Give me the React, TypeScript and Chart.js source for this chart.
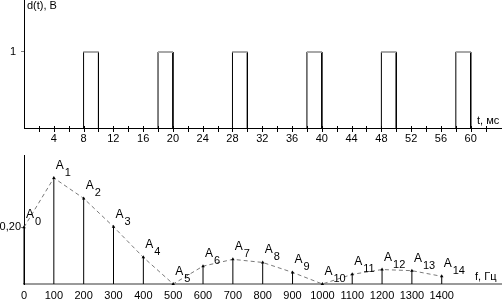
import React, { useEffect, useRef } from 'react';
import { Chart, registerables } from 'chart.js';

Chart.register(...registerables);

// ---- data ----
const pulseStarts = [8, 18, 28, 38, 48, 58];
const pulseEnds = [10, 20, 30, 40, 50, 60];
const pulseLevel = 1;
const timeMax = 64.2;
const timeTicks = [2, 4, 6, 8, 10, 12, 14, 16, 18, 20, 22, 24, 26, 28, 30, 32, 34, 36, 38, 40, 42, 44, 46, 48, 50, 52, 54, 56, 58, 60, 62];
const timeTickLabels = ['', '4', '', '8', '', '12', '', '16', '', '20', '', '24', '', '28', '', '32', '', '36', '', '40', '', '44', '', '48', '', '52', '', '56', '', '60', ''];
const timeLevelTicks = [1];

const harmonicFreqs = [0, 100, 200, 300, 400, 500, 600, 700, 800, 900, 1000, 1100, 1200, 1300, 1400];
const harmonicAmps = [0.2, 0.374, 0.302, 0.202, 0.094, 0, 0.063, 0.087, 0.076, 0.041, 0, 0.034, 0.051, 0.047, 0.027];
const freqMax = 1602;
const freqTickLabels = ['0', '100', '200', '300', '400', '500', '600', '700', '800', '900', '1000', '1100', '1200', '1300', '1400'];
const ampTicks = [0.2];
const ampTickLabels = ['0,20'];

const FAMILY = '"Liberation Sans", Arial, sans-serif';

const topDecor = {
  id: 'topDecor',
  afterDraw(chart: any) {
    const { ctx, chartArea, scales } = chart;
    const x = scales.x;
    ctx.save();
    ctx.strokeStyle = '#000';
    ctx.lineWidth = 1;
    x.ticks.forEach((t: any) => {
      const px = Math.round(x.getPixelForValue(t.value)) + 0.5;
      ctx.beginPath();
      ctx.moveTo(px, chartArea.bottom - 2);
      ctx.lineTo(px, chartArea.bottom + 4);
      ctx.stroke();
    });
    ctx.fillStyle = '#000';
    ctx.font = '11px ' + FAMILY;
    ctx.textAlign = 'left';
    ctx.textBaseline = 'alphabetic';
    ctx.fillText('d(t), В', chartArea.left + 3, 9);
    ctx.fillText('t, мс', chartArea.right - 25, chartArea.bottom - 4);
    ctx.restore();
  },
};

const bottomDecor = {
  id: 'bottomDecor',
  afterDatasetsDraw(chart: any) {
    const { ctx, chartArea, scales } = chart;
    const x = scales.x;
    const y = scales.y;
    ctx.save();
    ctx.fillStyle = '#000';
    ctx.textAlign = 'left';
    ctx.textBaseline = 'alphabetic';
    harmonicFreqs.forEach((f, i) => {
      const px = x.getPixelForValue(f);
      const py = y.getPixelForValue(harmonicAmps[i]);
      ctx.font = '12px ' + FAMILY;
      ctx.fillText('A', px + 2, py - 9);
      ctx.font = '11px ' + FAMILY;
      ctx.fillText(String(i), px + 11, py - 2);
    });
    ctx.font = '11px ' + FAMILY;
    ctx.fillText('f, Гц', chartArea.right - 27, chartArea.bottom - 4);
    ctx.restore();
  },
};

export default function App() {
  const topRef = useRef<HTMLCanvasElement | null>(null);
  const botRef = useRef<HTMLCanvasElement | null>(null);

  useEffect(() => {
    const outline: any[] = [];
    const tops: any[] = [];
    pulseStarts.forEach((s, i) => {
      const e = pulseEnds[i];
      outline.push({ x: s, y: 0 }, { x: s, y: pulseLevel }, { x: e, y: pulseLevel }, { x: e, y: 0 }, { x: e, y: null });
      tops.push({ x: s, y: pulseLevel }, { x: e, y: pulseLevel }, { x: e, y: null });
    });

    const topChart = new Chart(topRef.current as HTMLCanvasElement, {
      type: 'line',
      data: {
        datasets: [
          { data: tops, borderColor: '#a8a8a8', borderWidth: 2, pointRadius: 0, spanGaps: false, tension: 0, clip: false, order: 0 } as any,
          { data: outline, borderColor: '#000', borderWidth: 1, pointRadius: 0, spanGaps: false, tension: 0, clip: false, order: 1 } as any,
        ],
      },
      options: {
        animation: false,
        responsive: false,
        events: [],
        layout: { padding: 0 },
        plugins: { legend: { display: false }, tooltip: { enabled: false } },
        scales: {
          x: {
            type: 'linear',
            min: 0,
            max: timeMax,
            afterBuildTicks: (s: any) => { s.ticks = timeTicks.map((v) => ({ value: v })); },
            afterFit: (s: any) => { s.height = 22; s.paddingLeft = 0; s.paddingRight = 0; },
            grid: { display: false, drawTicks: false },
            border: { display: true, color: '#000', width: 1 },
            ticks: {
              autoSkip: false,
              maxRotation: 0,
              minRotation: 0,
              padding: 4,
              color: '#000',
              font: { family: FAMILY, size: 11 },
              callback: (_v: any, i: number) => timeTickLabels[i] ?? '',
            },
          },
          y: {
            type: 'linear',
            min: 0,
            max: 1.684,
            afterFit: (s: any) => { s.width = 24; s.paddingTop = 0; s.paddingBottom = 0; },
            afterBuildTicks: (s: any) => { s.ticks = timeLevelTicks.map((v) => ({ value: v })); },
            grid: { display: true, drawOnChartArea: false, drawTicks: true, tickLength: 3, tickColor: '#808080', color: '#808080' },
            border: { display: true, color: '#000', width: 1 },
            ticks: { padding: 5, color: '#000', font: { family: FAMILY, size: 11 }, callback: (v: any) => String(v) },
          },
        },
      } as any,
      plugins: [topDecor],
    });

    const stems: any[] = [];
    harmonicFreqs.forEach((f, i) => {
      stems.push({ x: f, y: 0 }, { x: f, y: harmonicAmps[i] }, { x: f, y: null });
    });
    const envelope = harmonicFreqs.map((f, i) => ({ x: f, y: harmonicAmps[i] }));

    const botChart = new Chart(botRef.current as HTMLCanvasElement, {
      type: 'line',
      data: {
        datasets: [
          {
            data: stems,
            borderColor: '#000',
            borderWidth: 1,
            spanGaps: false,
            tension: 0,
            clip: false,
            order: 0,
            pointStyle: 'triangle',
            pointRadius: (c: any) => (c.dataIndex % 3 === 1 ? 2 : 0),
            pointBackgroundColor: '#000',
            pointBorderColor: '#000',
            pointBorderWidth: 0,
          } as any,
          {
            data: envelope,
            borderColor: '#7a7a7a',
            borderWidth: 1,
            borderDash: [4, 3],
            pointRadius: 0,
            tension: 0,
            clip: false,
            order: 1,
          } as any,
        ],
      },
      options: {
        animation: false,
        responsive: false,
        events: [],
        layout: { padding: { top: 5, left: 0, right: 0, bottom: 0 } },
        plugins: { legend: { display: false }, tooltip: { enabled: false } },
        scales: {
          x: {
            type: 'linear',
            min: 0,
            max: freqMax,
            afterBuildTicks: (s: any) => { s.ticks = harmonicFreqs.map((v) => ({ value: v })); },
            afterFit: (s: any) => { s.height = 17; s.paddingLeft = 0; s.paddingRight = 0; },
            grid: { display: false, drawTicks: false },
            border: { display: true, color: '#9a9a9a', width: 2 },
            ticks: {
              autoSkip: false,
              maxRotation: 0,
              minRotation: 0,
              padding: 5,
              color: '#000',
              font: { family: FAMILY, size: 11 },
              callback: (_v: any, i: number) => freqTickLabels[i] ?? '',
            },
          },
          y: {
            type: 'linear',
            min: 0,
            max: 0.455,
            afterFit: (s: any) => { s.width = 24; s.paddingTop = 0; s.paddingBottom = 0; },
            afterBuildTicks: (s: any) => { s.ticks = ampTicks.map((v) => ({ value: v })); },
            grid: { display: true, drawOnChartArea: false, drawTicks: true, tickLength: 3, tickColor: '#808080', color: '#808080' },
            border: { display: true, color: '#000', width: 1 },
            ticks: { padding: 0, color: '#000', font: { family: FAMILY, size: 11 }, callback: (_v: any, i: number) => ampTickLabels[i] ?? '' },
          },
        },
      } as any,
      plugins: [bottomDecor],
    });

    return () => {
      topChart.destroy();
      botChart.destroy();
    };
  }, []);

  return (
    <div style={{ position: 'absolute', left: 0, top: 0, width: 502, height: 301, background: '#fff', overflow: 'hidden' }}>
      <canvas ref={topRef} width={502} height={150} style={{ position: 'absolute', left: 0, top: 0, width: 502, height: 150 }} />
      <canvas ref={botRef} width={502} height={151} style={{ position: 'absolute', left: 0, top: 150, width: 502, height: 151 }} />
    </div>
  );
}
